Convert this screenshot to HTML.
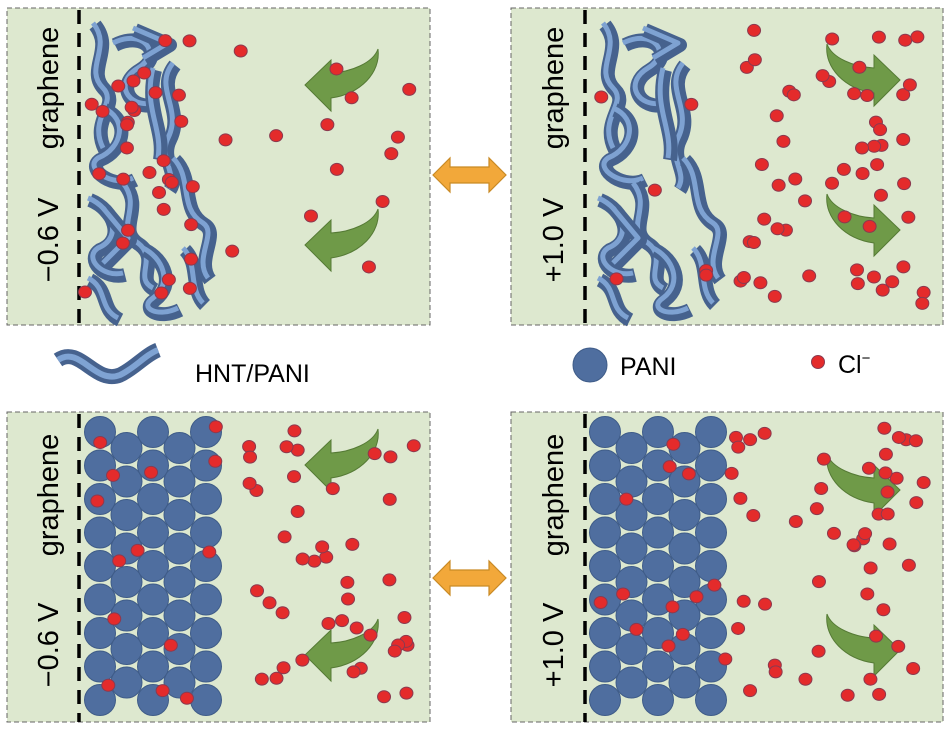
<!DOCTYPE html>
<html><head><meta charset="utf-8">
<style>
html,body{margin:0;padding:0;background:#fff;}
svg{display:block;}
text{font-family:"Liberation Sans",sans-serif;}
</style></head><body>
<svg id="s" width="945" height="745" viewBox="0 0 945 745" xmlns="http://www.w3.org/2000/svg">
<defs>
<g id="garrowL"><path d="M0,0 L26,-25 L26,-12 C46,-13 68,-22 73,-36 C76,-12 55,9 26,13 L26,26 Z" fill="#6f9a48" stroke="#557a35" stroke-width="1"/></g>
<g id="oarrow"><path d="M0,0 L17,-17 L17,-8 L56,-8 L56,-17 L73,0 L56,17 L56,8 L17,8 L17,17 Z" fill="#f2a83a" stroke="#c98a25" stroke-width="1.2"/></g>
</defs>
<rect x="7" y="8" width="423" height="317" fill="#dde8cf" stroke="#666" stroke-dasharray="5,3"/>
<rect x="511" y="8" width="432" height="317" fill="#dde8cf" stroke="#666" stroke-dasharray="5,3"/>
<rect x="7" y="412" width="423" height="310" fill="#dde8cf" stroke="#666" stroke-dasharray="5,3"/>
<rect x="511" y="412" width="432" height="310" fill="#dde8cf" stroke="#666" stroke-dasharray="5,3"/>
<g stroke="#000" stroke-width="3.5" stroke-dasharray="14,9">
<line x1="79" y1="10" x2="79" y2="325"/><line x1="585" y1="10" x2="585" y2="325"/>
<line x1="79" y1="414" x2="79" y2="722"/><line x1="585" y1="414" x2="585" y2="722"/>
</g>
<g font-size="29" fill="#000" text-anchor="middle">
<text transform="translate(58,88) rotate(-90)">graphene</text>
<text transform="translate(58,240) rotate(-90)">−0.6 V</text>
<text transform="translate(563,88) rotate(-90)">graphene</text>
<text transform="translate(563,240) rotate(-90)">+1.0 V</text>
<text transform="translate(58,495) rotate(-90)">graphene</text>
<text transform="translate(58,645) rotate(-90)">−0.6 V</text>
<text transform="translate(563,495) rotate(-90)">graphene</text>
<text transform="translate(563,645) rotate(-90)">+1.0 V</text>
</g>
<use href="#oarrow" x="433" y="175"/>
<use href="#oarrow" x="433" y="578"/>
<use href="#garrowL" x="305" y="85"/>
<use href="#garrowL" x="305" y="245"/>
<use href="#garrowL" x="305" y="465"/>
<use href="#garrowL" x="305" y="655"/>
<use href="#garrowL" transform="translate(900,80) scale(-1,1)"/>
<use href="#garrowL" transform="translate(900,230) scale(-1,1)"/>
<use href="#garrowL" transform="translate(900,490) scale(-1,1)"/>
<use href="#garrowL" transform="translate(900,650) scale(-1,1)"/>
<g id="tubes" fill="none" stroke-linecap="butt" stroke-linejoin="round"></g>
<g id="circ" fill="#4f6e9f" stroke="#3f5c88" stroke-width="1"></g>
<g id="dots" fill="#e42b2b" stroke="#8a3a50" stroke-width="1"></g>
<path d="M58,360 C80,345 95,385 120,375 C135,368 145,355 158,350" fill="none" stroke="#46628e" stroke-width="15"/>
<path d="M58,360 C80,345 95,385 120,375 C135,368 145,355 158,350" fill="none" stroke="#7fa3d3" stroke-width="6"/>
<text x="195" y="382" font-size="25">HNT/PANI</text>
<circle cx="590" cy="365" r="17" fill="#4f6e9f" stroke="#3f5c88"/>
<text x="620" y="375" font-size="25">PANI</text>
<circle cx="818" cy="362" r="6.5" fill="#e42b2b" stroke="#8a3a50"/>
<text x="838" y="373" font-size="25">Cl<tspan font-size="15" dy="-10">−</tspan></text>
</svg>
<script>
var NS="http://www.w3.org/2000/svg";
function el(p,t,a){var e=document.createElementNS(NS,t);for(var k in a)e.setAttribute(k,a[k]);document.getElementById(p).appendChild(e);}
var seed=7;function r(){seed=(seed*16807)%2147483647;return seed/2147483647;}
[[95,432],[600,432]].forEach(function(o){
 for(var c=0;c<5;c++)for(var k=0;k<9;k++){
  var x=o[0]+c*26.5+5,y=o[1]+k*33.5+(c%2?16:0);
  if(y>706)continue;
  el("circ","circle",{cx:x,cy:y,r:15.5});
 }
});
function tubes(ox){
 var paths=[
 "M10,15 C30,40 0,60 20,80 C35,95 5,110 20,140",
 "M30,35 C60,20 80,45 55,60 C30,75 45,100 70,95",
 "M50,20 L85,35 L60,50",
 "M90,55 C70,80 100,100 85,130 C75,150 95,165 85,180",
 "M70,60 C60,100 80,120 75,150",
 "M20,100 C45,110 40,140 15,150 C0,160 30,180 50,170",
 "M5,190 C30,200 40,230 15,240 C0,250 20,270 40,265",
 "M40,175 C60,200 30,220 55,235 C75,250 50,270 70,280",
 "M90,150 C110,170 95,200 120,215 C135,225 110,250 125,270",
 "M20,200 L45,230 L20,255",
 "M60,240 C80,250 90,275 70,290 C55,300 75,310 95,300",
 "M5,270 C25,280 15,300 35,310",
 "M100,240 C115,255 105,280 120,295"];
 paths.forEach(function(d){
  el("tubes","path",{d:d,transform:"translate("+ox+",10)",stroke:"#46628e","stroke-width":14});
  el("tubes","path",{d:d,transform:"translate("+(ox-2)+",8)",stroke:"#7ea2d2","stroke-width":5});
 });
}
tubes(85);tubes(595);
function dots(x0,x1,y0,y1,n){for(var i=0;i<n;i++)el("dots","ellipse",{cx:x0+r()*(x1-x0),cy:y0+r()*(y1-y0),rx:6.5,ry:6});}
dots(85,200,25,315,32);dots(210,410,30,300,14);
dots(600,720,30,300,6);dots(740,925,30,305,55);
dots(90,210,440,705,12);dots(215,415,425,700,45);
dots(595,720,440,705,12);dots(725,925,425,705,50);
</script>
</body></html>
